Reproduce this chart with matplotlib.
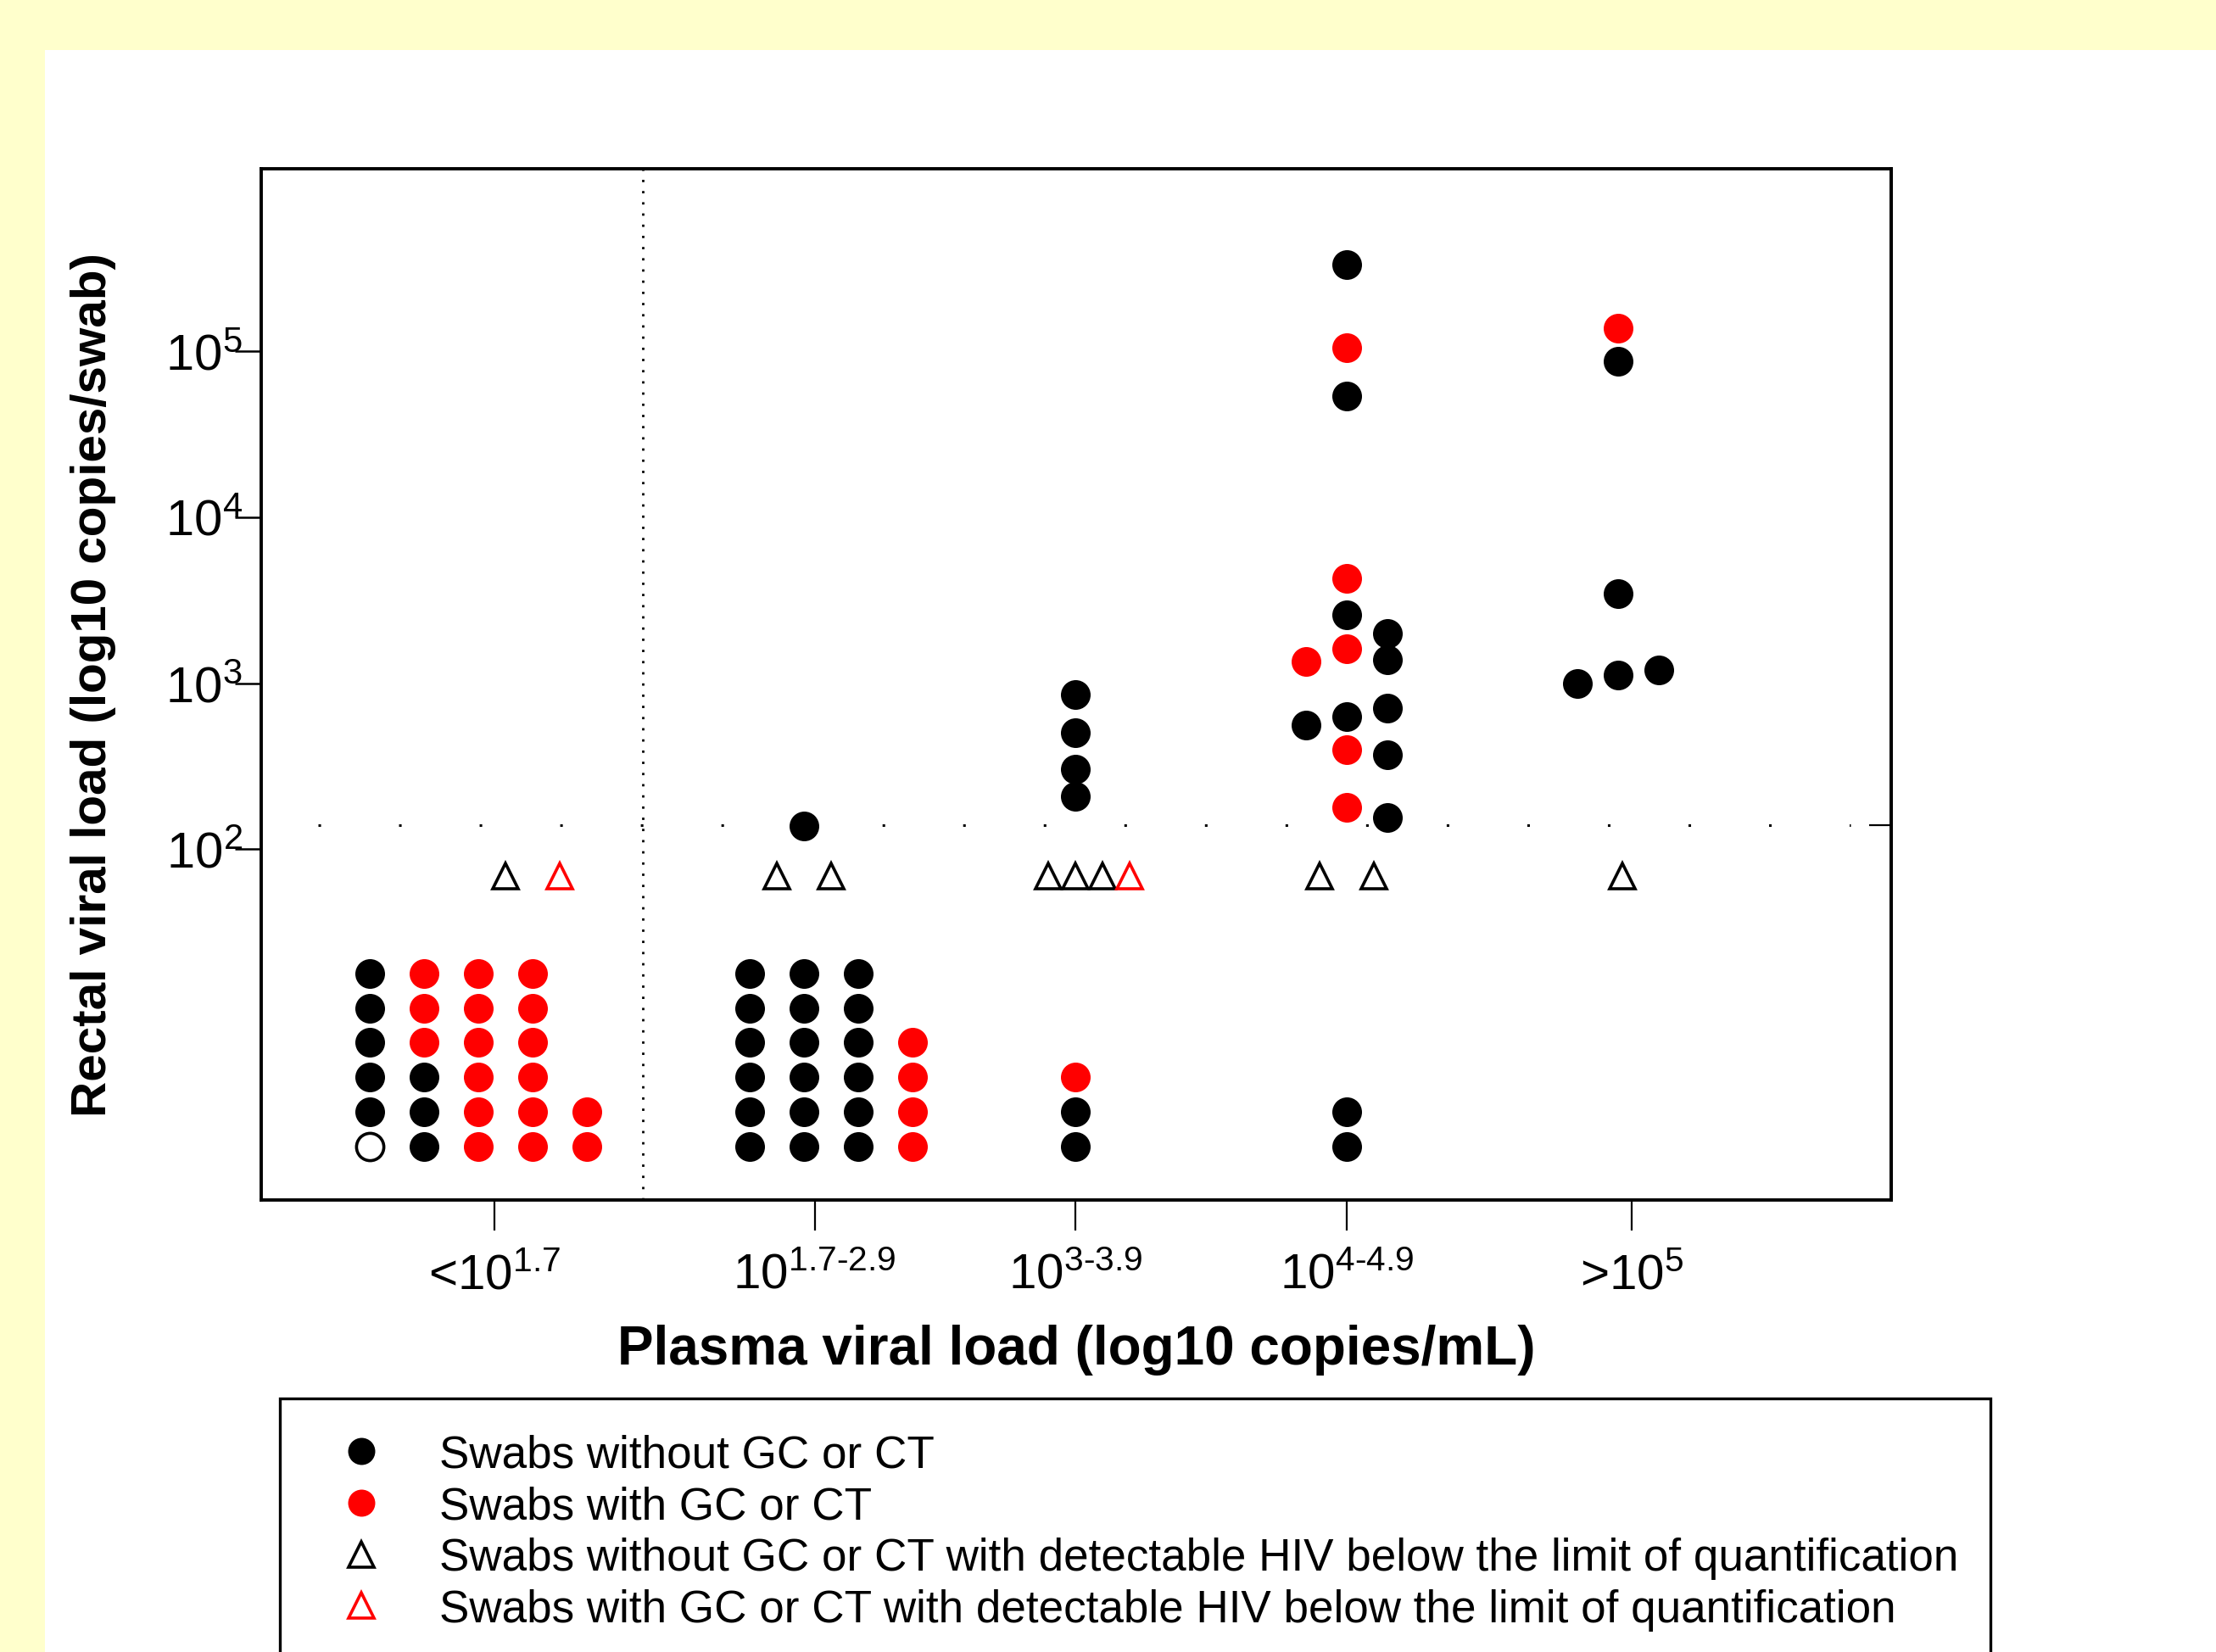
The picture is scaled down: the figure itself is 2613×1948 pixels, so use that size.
import matplotlib
matplotlib.use('Agg')
import matplotlib.pyplot as plt
from matplotlib.lines import Line2D
from matplotlib.patches import Rectangle

plt.rcParams['font.family'] = ['Liberation Sans', 'DejaVu Sans']
plt.rcParams['mathtext.fontset'] = 'custom'
plt.rcParams['mathtext.rm'] = 'Liberation Sans'
plt.rcParams['mathtext.it'] = 'Liberation Sans:italic'
plt.rcParams['mathtext.bf'] = 'Liberation Sans:bold'

# ---------------- data ----------------
categories = ['<10^1.7', '10^1.7-2.9', '10^3-3.9', '10^4-4.9', '>10^5']
xtick_labels = ['<$10^{1.7}$', r'$10^{1.7\text{-}2.9}$', r'$10^{3\text{-}3.9}$',
                r'$10^{4\text{-}4.9}$', '>$10^{5}$']
ytick_values = [2, 3, 4, 5]
ytick_labels = ['$10^{2}$', '$10^{3}$', '$10^{4}$', '$10^{5}$']
loq = 2.145  # limit of quantification (log10 copies/swab)

# quantified rectal viral loads (log10 copies/swab) per plasma VL group
quant_vl = [
    [],
    [2.14],
    [2.93, 2.70, 2.48, 2.32],
    [5.52, 5.02, 4.73, 3.63, 3.41, 3.21, 2.80, 2.60, 2.25,
     3.13, 2.75,
     3.30, 3.14, 2.85, 2.57, 2.19],
    [5.14, 4.94, 3.54, 3.00, 3.05, 3.08],
]
# 1 = swab with GC or CT, 0 = without
quant_sti = [
    [],
    [0],
    [0, 0, 0, 0],
    [0, 1, 0, 1, 0, 1, 0, 1, 1,
     1, 0,
     0, 0, 0, 0, 0],
    [1, 0, 0, 0, 0, 0],
]
# detectable but below limit of quantification (counts)
bloq_no_sti = [1, 2, 3, 2, 1]
bloq_sti = [1, 0, 1, 0, 0]
# undetectable (counts)
undet_other = [1, 0, 0, 0, 0]
undet_no_sti = [8, 18, 2, 2, 0]
undet_sti = [17, 4, 1, 0, 0]

legend_labels = ['Swabs without GC or CT',
                 'Swabs with GC or CT',
                 'Swabs without GC or CT with detectable HIV below the limit of quantification',
                 'Swabs with GC or CT with detectable HIV below the limit of quantification']

# ---------------- layout ----------------
W, H, DPI = 2613, 1949, 200
tick_pos = [4.3, 10.2, 15.0, 20.0, 25.25]
quant_center = [4, 10, 15, 20, 25]
quant_jitter = [[], [0], [0, 0, 0, 0],
                [0] * 9 + [-0.75] * 2 + [0.75] * 5,
                [0, 0, 0, -0.75, 0, 0.75]]
tri_start = [4.5, 9.5, 14.5, 19.5, 25.08]
tri_step = [1, 1, 0.5, 1, 1]
tri_y = 1.84
stack_start = [2, 9, 15, 20, 25]
stack_rows = 6
row_base, row_step = 0.21, 0.208
sep_x = 7.03
BLACK, RED = '#000000', '#ff0000'
DOT_MS, TRI_MS = 12.6, 11

fig = plt.figure(figsize=(W / DPI, H / DPI), dpi=DPI)
fig.patch.set_facecolor('#ffffcc')
fig.add_artist(Rectangle((53 / W, 0), 1 - 53 / W, 1 - 60 / H, transform=fig.transFigure,
                         facecolor='white', edgecolor='none', zorder=-10))

ax = fig.add_axes([308 / W, 1 - 1416 / H, (2230 - 308) / W, (1416 - 200) / H])
ax.set_xlim(0, 30.03)
ax.set_ylim(-0.114, 6.10)

# reference lines
ax.hlines(loq, (375 - 308) / 64, (2182 - 308) / 64, colors=BLACK, lw=1.1,
          linestyles=(0, (1, 30.1)), zorder=1)
ax.vlines(sep_x, -0.114, 6.10, colors=BLACK, lw=1.0, linestyles=(0, (1, 3.75)), zorder=1)

# quantified swabs
for g in range(len(categories)):
    for v, s, j in zip(quant_vl[g], quant_sti[g], quant_jitter[g]):
        ax.plot(quant_center[g] + j, v, 'o', color=RED if s else BLACK,
                ms=DOT_MS, mew=0, zorder=3)

# below LOQ triangles
for g in range(len(categories)):
    cols = [BLACK] * bloq_no_sti[g] + [RED] * bloq_sti[g]
    for i, c in enumerate(cols):
        ax.plot(tri_start[g] + i * tri_step[g], tri_y, '^', mfc='none', mec=c,
                mew=1.3, ms=TRI_MS, zorder=3)

# undetectable stacks
for g in range(len(categories)):
    seq = ['open'] * undet_other[g] + ['b'] * undet_no_sti[g] + ['r'] * undet_sti[g]
    for i, kind in enumerate(seq):
        x = stack_start[g] + i // stack_rows
        y = row_base + (i % stack_rows) * row_step
        if kind == 'open':
            ax.plot(x, y, 'o', mfc='white', mec=BLACK, mew=1.3, ms=DOT_MS - 1, zorder=3)
        else:
            ax.plot(x, y, 'o', color=RED if kind == 'r' else BLACK, ms=DOT_MS, mew=0, zorder=3)

# axes styling
for sp in ax.spines.values():
    sp.set_linewidth(1.4)
ax.set_xticks(tick_pos)
ax.set_xticklabels(xtick_labels, fontsize=21)
ax.tick_params(axis='x', direction='out', length=13, width=0.8, pad=9)
ax.set_yticks(ytick_values)
ax.set_yticklabels(ytick_labels, fontsize=21.5)
ax.tick_params(axis='y', direction='out', length=11, width=0.9, pad=-3)

sec = ax.secondary_yaxis('right')
sec.set_yticks([loq])
sec.set_yticklabels([''])
sec.tick_params(direction='in', length=9.4, width=0.8)
sec.spines['right'].set_linewidth(1.4)

ax.set_xlabel('Plasma viral load (log10 copies/mL)', fontsize=23, fontweight='bold')
ax.xaxis.set_label_coords(0.5, (1416 - 1562) / 1216)
ax.xaxis.label.set_va('top')
ax.set_ylabel('Rectal viral load (log10 copies/swab)', fontsize=21, fontweight='bold')
ax.yaxis.set_label_coords((137 - 308) / 1922, 0.5)

# legend
LEG_FS = 19.1
handles = [Line2D([], [], ls='none', marker='o', color=BLACK, ms=11.5, mew=0),
           Line2D([], [], ls='none', marker='o', color=RED, ms=11.5, mew=0),
           Line2D([], [], ls='none', marker='^', mfc='none', mec=BLACK, mew=1.3, ms=10.5),
           Line2D([], [], ls='none', marker='^', mfc='none', mec=RED, mew=1.3, ms=10.5)]
fig.legend(handles, legend_labels, loc='upper left',
           bbox_to_anchor=(399 / W, 1 - 1692 / H), frameon=False, fontsize=LEG_FS,
           handlelength=1.0, handletextpad=1.25, labelspacing=0.2,
           borderpad=0, borderaxespad=0)
fig.add_artist(Rectangle((330 / W, -0.05), (2347 - 330) / W, (1 - 1650 / H) + 0.05,
                         transform=fig.transFigure, fill=False, edgecolor=BLACK, lw=1.2))

fig.savefig('out.png', dpi=DPI, facecolor=fig.get_facecolor())
